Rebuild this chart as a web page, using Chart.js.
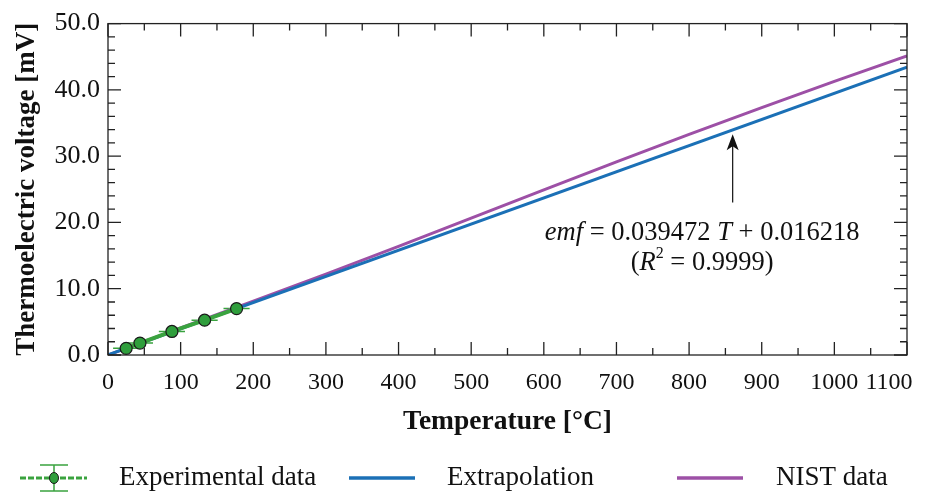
<!DOCTYPE html>
<html>
<head>
<meta charset="utf-8">
<script src="https://cdn.jsdelivr.net/npm/chart.js@4.4.0/dist/chart.umd.min.js"></script>
<style>
  html, body { margin: 0; padding: 0; background: #fff; }
  #wrap { width: 925px; height: 494px; position: relative; }
</style>
</head>
<body>
<div id="wrap"><canvas id="chart"></canvas></div>
<script>
const expTemp = [25, 44, 88, 133, 177];
const expEmf = [1.0, 1.8, 3.55, 5.25, 7.0];
const expTempErr = [18, 18, 18, 18, 18];

// linear fit, extrapolated
const fitTemp = [0, 1100];
const fitEmf = [0.016, 43.435];

// NIST type K reference table
const nistTemp = [0, 100, 200, 300, 400, 500, 600, 700, 800, 900, 1000, 1100];
const nistEmf = [0, 4.096, 8.138, 12.209, 16.397, 20.644, 24.905, 29.129, 33.275, 37.326, 41.276, 45.119];

const xTicks = [0, 100, 200, 300, 400, 500, 600, 700, 800, 900, 1000, 1100];
const xTickLabels = ['0', '100', '200', '300', '400', '500', '600', '700', '800', '900', '1000', '1100'];
const yTicks = [0, 10, 20, 30, 40, 50];
const yTickLabels = ['0.0', '10.0', '20.0', '30.0', '40.0', '50.0'];

const legendLabels = ['Experimental data', 'Extrapolation', 'NIST data'];

const FONT = "'Liberation Serif', 'Times New Roman', serif";
const GREEN = '#3aa33f';
const GREEN_DOT = '#2f9e3c';
const BLUE = '#1b70b6';
const PURPLE = '#9d50a6';
const INK = '#111';

const toXY = (xs, ys) => xs.map((x, i) => ({ x: x, y: ys[i] }));

// inward ticks on all four sides + frame
const frameTicks = {
  id: 'frameTicks',
  afterDatasetsDraw(chart) {
    const { ctx, chartArea: a, scales: { x, y } } = chart;
    ctx.save();
    ctx.strokeStyle = '#222';
    ctx.lineWidth = 1.3;
    ctx.beginPath();
    for (let v = 0; v <= 1100; v += 50) {
      const px = x.getPixelForValue(v);
      const len = v % 100 === 0 ? 13 : 7;
      ctx.moveTo(px, a.bottom); ctx.lineTo(px, a.bottom - len);
      ctx.moveTo(px, a.top); ctx.lineTo(px, a.top + len);
    }
    for (let v = 0; v <= 50; v += 2) {
      const py = y.getPixelForValue(v);
      const len = v % 10 === 0 ? 13 : 7;
      ctx.moveTo(a.left, py); ctx.lineTo(a.left + len, py);
      ctx.moveTo(a.right, py); ctx.lineTo(a.right - len, py);
    }
    ctx.stroke();
    ctx.strokeRect(a.left, a.top, a.right - a.left, a.bottom - a.top);
    ctx.restore();
  }
};

// horizontal error bars for the measured points
const errorBars = {
  id: 'errorBars',
  beforeDatasetsDraw(chart) {
    const { ctx, scales: { x, y } } = chart;
    ctx.save();
    ctx.strokeStyle = GREEN;
    ctx.lineWidth = 1.5;
    ctx.beginPath();
    expTemp.forEach((t, i) => {
      const py = y.getPixelForValue(expEmf[i]);
      ctx.moveTo(x.getPixelForValue(t - expTempErr[i]), py);
      ctx.lineTo(x.getPixelForValue(t + expTempErr[i]), py);
    });
    ctx.stroke();
    ctx.restore();
  }
};

// equation label with arrow
const annotation = {
  id: 'annotation',
  afterDatasetsDraw(chart) {
    const { ctx, scales: { x, y } } = chart;
    const ax = x.getPixelForValue(860);
    const tipY = y.getPixelForValue(33.3);
    const tailY = y.getPixelForValue(23.0);
    ctx.save();
    ctx.strokeStyle = INK;
    ctx.fillStyle = INK;
    ctx.lineWidth = 1.2;
    ctx.beginPath();
    ctx.moveTo(ax, tailY); ctx.lineTo(ax, tipY + 10);
    ctx.stroke();
    ctx.beginPath();
    ctx.moveTo(ax, tipY);
    ctx.lineTo(ax - 6, tipY + 16);
    ctx.lineTo(ax, tipY + 12);
    ctx.lineTo(ax + 6, tipY + 16);
    ctx.closePath();
    ctx.fill();

    const drawParts = (parts, cx, cy) => {
      let w = 0;
      parts.forEach(p => { ctx.font = p.f; w += ctx.measureText(p.t).width; });
      let px = cx - w / 2;
      ctx.textBaseline = 'middle';
      ctx.textAlign = 'left';
      parts.forEach(p => {
        ctx.font = p.f;
        ctx.fillText(p.t, px, cy + (p.dy || 0));
        px += ctx.measureText(p.t).width;
      });
    };
    const reg = '26.5px ' + FONT;
    const ita = 'italic 26.5px ' + FONT;
    const cx = x.getPixelForValue(818);
    drawParts([
      { t: 'emf', f: ita }, { t: ' = 0.039472 ', f: reg }, { t: 'T', f: ita }, { t: ' + 0.016218', f: reg }
    ], cx, y.getPixelForValue(18.4));
    drawParts([
      { t: '(', f: reg }, { t: 'R', f: ita }, { t: '2', f: '16px ' + FONT, dy: -9 }, { t: ' = 0.9999)', f: reg }
    ], cx, y.getPixelForValue(13.9));
    ctx.restore();
  }
};

// legend row under the axis title
const bottomLegend = {
  id: 'bottomLegend',
  afterDraw(chart) {
    const { ctx } = chart;
    const ly = 478;
    ctx.save();
    // experimental symbol
    ctx.strokeStyle = GREEN;
    ctx.lineWidth = 3;
    ctx.setLineDash([6, 2]);
    ctx.beginPath(); ctx.moveTo(20, ly); ctx.lineTo(87, ly); ctx.stroke();
    ctx.setLineDash([]);
    ctx.lineWidth = 1.5;
    ctx.beginPath();
    ctx.moveTo(54, ly - 13); ctx.lineTo(54, ly + 13);
    ctx.moveTo(40, ly - 13); ctx.lineTo(68, ly - 13);
    ctx.moveTo(40, ly + 13); ctx.lineTo(68, ly + 13);
    ctx.stroke();
    ctx.fillStyle = GREEN_DOT;
    ctx.strokeStyle = '#1a1a1a';
    ctx.lineWidth = 1;
    ctx.beginPath(); ctx.ellipse(54, ly, 4.5, 5.5, 0, 0, Math.PI * 2); ctx.fill(); ctx.stroke();
    // line samples
    ctx.lineWidth = 3.5;
    ctx.strokeStyle = BLUE;
    ctx.beginPath(); ctx.moveTo(349, ly); ctx.lineTo(415, ly); ctx.stroke();
    ctx.strokeStyle = PURPLE;
    ctx.beginPath(); ctx.moveTo(677, ly); ctx.lineTo(743, ly); ctx.stroke();
    // labels
    ctx.fillStyle = INK;
    ctx.font = '27px ' + FONT;
    ctx.textBaseline = 'middle';
    ctx.textAlign = 'left';
    ctx.fillText(legendLabels[0], 119, ly);
    ctx.fillText(legendLabels[1], 447, ly);
    ctx.fillText(legendLabels[2], 776, ly);
    ctx.restore();
  }
};

const ctx = document.getElementById('chart').getContext('2d');

const chart = new Chart(ctx, {
  type: 'scatter',
  data: {
    datasets: [
      {
        label: legendLabels[0],
        data: toXY(expTemp, expEmf),
        showLine: true,
        borderColor: GREEN,
        borderWidth: 4,
        backgroundColor: GREEN_DOT,
        pointBackgroundColor: GREEN_DOT,
        pointBorderColor: '#1a1a1a',
        pointBorderWidth: 1.2,
        pointRadius: 6,
        order: 0
      },
      {
        label: legendLabels[1],
        data: toXY(fitTemp, fitEmf),
        showLine: true,
        borderColor: BLUE,
        borderWidth: 3,
        pointRadius: 0,
        order: 1
      },
      {
        label: legendLabels[2],
        data: toXY(nistTemp, nistEmf),
        showLine: true,
        borderColor: PURPLE,
        borderWidth: 3,
        pointRadius: 0,
        order: 2
      }
    ]
  },
  options: {
    responsive: true,
    maintainAspectRatio: false,
    animation: false,
    layout: { padding: { left: 0, right: 18, top: 19, bottom: 56 } },
    plugins: {
      legend: { display: false },
      tooltip: { enabled: false }
    },
    scales: {
      x: {
        type: 'linear',
        min: 0,
        max: 1100,
        afterBuildTicks: (s) => { s.ticks = xTicks.map(v => ({ value: v })); },
        afterFit: (s) => { s.height = 83; s.paddingLeft = 0; s.paddingRight = 0; },
        ticks: {
          // last label sits inside the frame, as in the original
          callback: (v, i) => i === xTickLabels.length - 1 ? xTickLabels[i] + '\u2002\u2002\u2002' : xTickLabels[i],
          font: { family: FONT, size: 24 },
          color: INK,
          padding: 13,
          maxRotation: 0,
          autoSkip: false
        },
        grid: { display: false, drawTicks: false },
        border: { display: false },
        title: {
          display: true,
          text: 'Temperature [°C]',
          font: { family: FONT, size: 27.5, weight: 'bold' },
          color: INK,
          padding: { top: 0, bottom: 0 }
        }
      },
      y: {
        type: 'linear',
        min: 0,
        max: 50,
        afterBuildTicks: (s) => { s.ticks = yTicks.map(v => ({ value: v })); },
        afterFit: (s) => { s.width = 108; },
        ticks: {
          callback: (v, i) => yTickLabels[i],
          font: { family: FONT, size: 26 },
          color: INK,
          padding: 8,
          autoSkip: false
        },
        grid: { display: false, drawTicks: false },
        border: { display: false },
        title: {
          display: true,
          text: 'Thermoelectric voltage [mV]',
          font: { family: FONT, size: 27, weight: 'bold' },
          color: INK,
          padding: { top: 11, bottom: 0 }
        }
      }
    }
  },
  plugins: [errorBars, frameTicks, annotation, bottomLegend]
});
</script>
</body>
</html>
